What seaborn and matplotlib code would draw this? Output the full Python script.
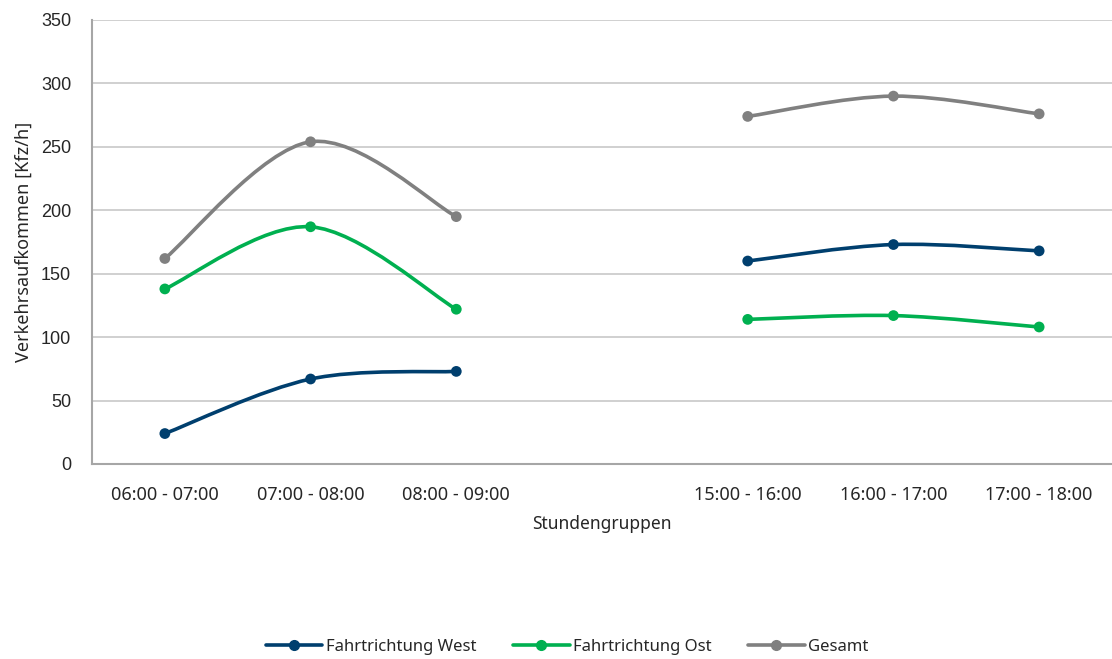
import matplotlib
matplotlib.use("Agg")
import matplotlib.pyplot as plt
from matplotlib.path import Path
from matplotlib.patches import PathPatch
from matplotlib.lines import Line2D
import seaborn as sns
import pandas as pd
import numpy as np

# data
categories = ["06:00 - 07:00", "07:00 - 08:00", "08:00 - 09:00", "",
              "15:00 - 16:00", "16:00 - 17:00", "17:00 - 18:00"]
west = [24, 67, 73, None, 160, 173, 168]
ost = [138, 187, 122, None, 114, 117, 108]
gesamt = [162, 254, 195, None, 274, 290, 276]

series_names = ["Fahrtrichtung West", "Fahrtrichtung Ost", "Gesamt"]
colors = {"Fahrtrichtung West": "#003F6E",
          "Fahrtrichtung Ost": "#00B050",
          "Gesamt": "#808080"}

rows = []
for name, vals in zip(series_names, [west, ost, gesamt]):
    for i, v in enumerate(vals):
        rows.append({"pos": i, "Stundengruppe": categories[i], "series": name, "value": v})
df = pd.DataFrame(rows)

sns.set_style("white")
plt.rcParams["font.family"] = ["Noto Sans", "DejaVu Sans"]

fig = plt.figure(figsize=(11.12, 6.59), dpi=100)
ax = fig.add_axes([92 / 1112, 1 - 464 / 659, 1 - 92 / 1112, (464 - 20) / 659])


def smooth_path(xs, ys):
    # Excel-style smoothed line: cubic Bezier through the points
    pts = np.column_stack([xs, ys]).astype(float)
    n = len(pts)
    verts = [pts[0]]
    codes = [Path.MOVETO]
    for i in range(n - 1):
        p0 = pts[i - 1] if i > 0 else pts[i]
        p1 = pts[i]
        p2 = pts[i + 1]
        p3 = pts[i + 2] if i + 2 < n else pts[i + 1]
        c1 = p1 + (p2 - p0) / 6
        c2 = p2 - (p3 - p1) / 6
        verts += [c1, c2, p2]
        codes += [Path.CURVE4] * 3
    return Path(verts, codes)


for name in series_names:
    sub = df[df["series"] == name].dropna(subset=["value"])
    # split into contiguous runs (gap in the middle)
    grp = (sub["pos"].diff() != 1).cumsum()
    for _, seg in sub.groupby(grp):
        ax.add_patch(PathPatch(smooth_path(seg["pos"], seg["value"]),
                               facecolor="none", edgecolor=colors[name],
                               lw=2.6, capstyle="round", zorder=3))

sns.scatterplot(data=df.dropna(subset=["value"]), x="pos", y="value", hue="series",
                palette=colors, s=60, edgecolor="none", legend=False, ax=ax, zorder=4)

ax.set_xlim(-0.5, len(categories) - 0.5)
ax.set_ylim(0, 350)
ax.set_yticks(range(0, 351, 50))
ax.yaxis.grid(True, color="#C8C8C8", lw=1.2)
ax.set_axisbelow(True)

ax.set_xticks(range(len(categories)))
ax.set_xticklabels(categories, fontsize=13)
ax.set_xticks(np.arange(-0.5, len(categories), 1), minor=True)
ax.tick_params(axis="x", which="major", length=0, pad=16)
ax.tick_params(axis="x", which="minor", length=5, width=1.2, color="#A6A6A6")
ax.tick_params(axis="y", length=5, width=1.2, color="#A6A6A6", pad=10)
for lbl in ax.get_yticklabels():
    lbl.set_fontfamily("Liberation Sans")
    lbl.set_fontsize(13)

for side in ["top", "right"]:
    ax.spines[side].set_visible(False)
for side in ["left", "bottom"]:
    ax.spines[side].set_color("#A6A6A6")
    ax.spines[side].set_linewidth(1.5)

ax.set_xlabel("Stundengruppen", fontsize=12.5, labelpad=8)
ax.set_ylabel("Verkehrsaufkommen [Kfz/h]", fontsize=13, labelpad=6)

handles = [Line2D([0], [0], color=colors[n], lw=2.6, marker="o", markersize=7) for n in series_names]
fig.legend(handles, series_names, loc="center", bbox_to_anchor=(0.51, 1 - 647 / 659),
           ncol=3, frameon=False, fontsize=12, handlelength=3.4, handletextpad=0.2,
           columnspacing=2.2)

fig.savefig("out.png", dpi=100)
